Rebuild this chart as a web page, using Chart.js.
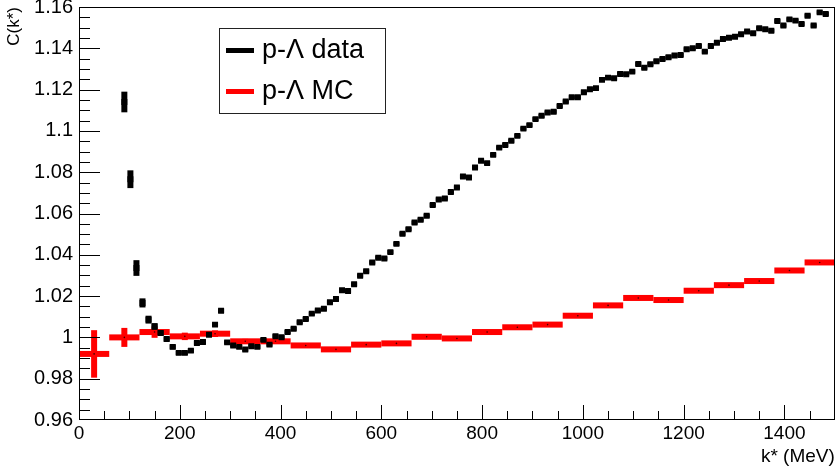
<!DOCTYPE html>
<html>
<head>
<meta charset="utf-8">
<script src="https://cdn.jsdelivr.net/npm/chart.js@4/dist/chart.umd.min.js"></script>
<style>
html,body{margin:0;padding:0;background:#ffffff;}
#wrap{width:839px;height:472px;position:relative;overflow:hidden;}
canvas{display:block;}
</style>
</head>
<body>
<div id="wrap"><canvas id="c" width="839" height="472"></canvas></div>
<script>
// ---- data: p-Lambda correlation (data) ----
const dataX = [90,102,114,126,138,150,162,174,186,198,210,222,234,246,258,270,282,294,306,318,330,342,354,366,378,390,402,414,426,438,450,462,474,486,498,510,522,534,546,558,570,582,594,606,618,630,642,654,666,678,690,702,714,726,738,750,762,774,786,798,810,822,834,846,858,870,882,894,906,918,930,942,954,966,978,990,1002,1014,1026,1038,1050,1062,1074,1086,1098,1110,1122,1134,1146,1158,1170,1182,1194,1206,1218,1230,1242,1254,1266,1278,1290,1302,1314,1326,1338,1350,1362,1374,1386,1398,1410,1422,1434,1446,1458,1470,1482];
const dataY = [1.1140,1.0766,1.0336,1.0167,1.0086,1.0053,1.0021,0.9992,0.9954,0.9925,0.9925,0.9936,0.9973,0.9978,1.0013,1.0062,1.0129,0.9976,0.9961,0.9954,0.9941,0.9957,0.9954,0.9988,0.9965,1.0006,1.0001,1.0026,1.0042,1.0073,1.0089,1.0115,1.0130,1.0139,1.0170,1.0186,1.0228,1.0225,1.0257,1.0299,1.0320,1.0363,1.0386,1.0382,1.0413,1.0453,1.0502,1.0524,1.0556,1.0570,1.0589,1.0641,1.0668,1.0673,1.0704,1.0726,1.0779,1.0774,1.0823,1.0855,1.0844,1.0884,1.0919,1.0932,1.0952,1.0976,1.1011,1.1028,1.1057,1.1073,1.1089,1.1093,1.1121,1.1142,1.1163,1.1163,1.1187,1.1202,1.1207,1.1247,1.1258,1.1255,1.1276,1.1274,1.1287,1.1324,1.1306,1.1323,1.1337,1.1348,1.1357,1.1365,1.1368,1.1395,1.1400,1.1411,1.1384,1.1411,1.1427,1.1445,1.1451,1.1456,1.1468,1.1481,1.1473,1.1497,1.1492,1.1485,1.1532,1.1510,1.1540,1.1534,1.1518,1.1558,1.1510,1.1574,1.1566];
const dataErr = [0.0050,0.0043,0.0038,0.0022,0.0019,0.0016,0.0014,0.0012,0.0012,0.0011,0.0011,0.0011,0.0011,0.0011,0.0011,0.0011,0.0011,0.0010,0.0010,0.0010,0.0010,0.0010,0.0010,0.0010,0.0010,0.0010,0.0010,0.0010,0.0010,0.0010,0.0010,0.0010,0.0010,0.0010,0.0010,0.0010,0.0010,0.0010,0.0010,0.0010,0.0010,0.0010,0.0010,0.0010,0.0010,0.0010,0.0010,0.0010,0.0010,0.0010,0.0010,0.0010,0.0010,0.0010,0.0010,0.0010,0.0010,0.0010,0.0010,0.0010,0.0010,0.0010,0.0010,0.0010,0.0010,0.0010,0.0010,0.0010,0.0010,0.0010,0.0010,0.0010,0.0010,0.0010,0.0010,0.0010,0.0010,0.0010,0.0010,0.0010,0.0010,0.0010,0.0010,0.0010,0.0010,0.0010,0.0010,0.0010,0.0010,0.0010,0.0010,0.0010,0.0010,0.0010,0.0010,0.0010,0.0010,0.0010,0.0010,0.0010,0.0010,0.0010,0.0010,0.0010,0.0010,0.0010,0.0010,0.0010,0.0010,0.0010,0.0010,0.0010,0.0010,0.0010,0.0010,0.0010,0.0010];

// ---- MC: p-Lambda (60 MeV bins) ----
const mcX = [30,90,150,210,270,330,390,450,510,570,630,690,750,810,870,930,990,1050,1110,1170,1230,1290,1350,1410,1470];
const mcY = [0.9920,1.0000,1.0026,1.0005,1.0018,0.9981,0.9981,0.9961,0.9942,0.9965,0.9971,1.0003,0.9995,1.0026,1.0049,1.0062,1.0105,1.0155,1.0191,1.0181,1.0226,1.0253,1.0273,1.0324,1.0363];
const mcErr = [0.0115,0.0046,0.0028,0.0018,0.0016,0.0012,0.0011,0.0011,0.0011,0.0011,0.0011,0.0011,0.0011,0.0011,0.0011,0.0011,0.0011,0.0011,0.0011,0.0011,0.0011,0.0011,0.0011,0.0011,0.0011];
const mcBinWidth = 60;

// ---- axes ----
const xTickValues = [0,200,400,600,800,1000,1200,1400];
const xTickLabels = ['0','200','400','600','800','1000','1200','1400'];
const xMinorStep = 50;
const yTickValues = [0.96,0.98,1.00,1.02,1.04,1.06,1.08,1.10,1.12,1.14,1.16];
const yTickLabels = ['0.96','0.98','1','1.02','1.04','1.06','1.08','1.1','1.12','1.14','1.16'];
const yMinorStep = 0.005;
const seriesNames = ['p-\u039B data','p-\u039B MC'];
const xTitle = 'k* (MeV)';
const yTitle = 'C(k*)';

const FONT = '"Liberation Sans", Arial, Helvetica, sans-serif';

const rootPlugin = {
  id: 'rootStyle',
  beforeDatasetsDraw(chart) {
    const ctx = chart.ctx, xs = chart.scales.x, ys = chart.scales.y, a = chart.chartArea;
    ctx.save();
    ctx.beginPath(); ctx.rect(a.left, a.top, a.right - a.left, a.bottom - a.top); ctx.clip();
    // MC bins
    const mc = chart.getDatasetMeta(1);
    ctx.fillStyle = chart.data.datasets[1].borderColor;
    mc.data.forEach((el, i) => {
      const x0 = xs.getPixelForValue(mcX[i] - mcBinWidth / 2);
      const x1 = xs.getPixelForValue(mcX[i] + mcBinWidth / 2);
      ctx.fillRect(x0, el.y - 3, x1 - x0, 6);
      const y0 = ys.getPixelForValue(mcY[i] + mcErr[i]);
      const y1 = ys.getPixelForValue(mcY[i] - mcErr[i]);
      ctx.fillRect(el.x - 3, y0, 6, y1 - y0);
    });
    // data error bars
    const dm = chart.getDatasetMeta(0);
    ctx.fillStyle = chart.data.datasets[0].borderColor;
    dm.data.forEach((el, i) => {
      const y0 = ys.getPixelForValue(dataY[i] + dataErr[i]);
      const y1 = ys.getPixelForValue(dataY[i] - dataErr[i]);
      ctx.fillRect(el.x - 3, y0, 6, y1 - y0);
    });
    ctx.restore();
  },
  afterDraw(chart) {
    const ctx = chart.ctx, xs = chart.scales.x, ys = chart.scales.y, a = chart.chartArea;
    const L = Math.round(a.left), R = Math.round(a.right), T = Math.round(a.top), B = Math.round(a.bottom);
    ctx.save();
    ctx.strokeStyle = '#000000';
    ctx.lineWidth = 1;
    // frame
    ctx.strokeRect(L + 0.5, T + 0.5, R - L - 1, B - T - 1);
    // y ticks
    ctx.beginPath();
    for (let v = ys.min; v <= ys.max + 1e-9; v += yMinorStep) {
      let yp = Math.round(ys.getPixelForValue(v)) + 0.5;
      yp = Math.min(Math.max(yp, T + 0.5), B - 0.5);
      const isMajor = yTickValues.some(t => Math.abs(t - v) < 1e-6);
      ctx.moveTo(L, yp); ctx.lineTo(L + (isMajor ? 21 : 11), yp);
    }
    ctx.stroke();
    // x ticks
    ctx.beginPath();
    for (let v = xs.min; v < xs.max - 1e-6; v += xMinorStep) {
      const xp = Math.round(xs.getPixelForValue(v)) + 0.5;
      const isMajor = xTickValues.indexOf(v) >= 0;
      ctx.moveTo(xp, B - 1); ctx.lineTo(xp, B - 1 - (isMajor ? 14 : 8));
    }
    ctx.stroke();

    // legend
    const lx = 219, ly = 28, lw = 166, lh = 85;
    ctx.fillStyle = '#ffffff';
    ctx.fillRect(lx, ly, lw, lh);
    ctx.strokeStyle = '#222222';
    ctx.strokeRect(lx + 0.5, ly + 0.5, lw, lh);
    const rows = [50.5, 91.5];
    chart.data.datasets.forEach((ds, i) => {
      ctx.fillStyle = ds.borderColor;
      ctx.fillRect(226, rows[i] - 2.5, 28, 5);
      ctx.fillStyle = '#000000';
      ctx.font = '27px ' + FONT;
      ctx.textBaseline = 'middle';
      ctx.textAlign = 'left';
      ctx.fillText(ds.label, 262, rows[i]);
    });
    ctx.restore();
  }
};

new Chart(document.getElementById('c'), {
  type: 'scatter',
  data: {
    datasets: [
      {
        label: seriesNames[0],
        data: dataX.map((x, i) => ({x: x, y: dataY[i]})),
        pointStyle: 'rect',
        pointRadius: 4.2,
        pointBorderWidth: 0,
        backgroundColor: '#000000',
        borderColor: '#000000',
        showLine: false
      },
      {
        label: seriesNames[1],
        data: mcX.map((x, i) => ({x: x, y: mcY[i]})),
        pointStyle: 'circle',
        pointRadius: 0.8,
        pointBorderWidth: 0,
        backgroundColor: '#3a0000',
        borderColor: '#ff0000',
        showLine: false
      }
    ]
  },
  options: {
    responsive: false,
    animation: false,
    events: [],
    layout: {padding: {top: 7, right: 4, left: 0, bottom: 0}},
    plugins: {legend: {display: false}, tooltip: {enabled: false}},
    scales: {
      x: {
        type: 'linear', min: 0, max: 1500,
        grid: {display: false, drawTicks: false},
        border: {display: false},
        afterBuildTicks: s => { s.ticks = xTickValues.map(v => ({value: v})); },
        afterFit: s => { s.height = 52; s.paddingLeft = 0; s.paddingRight = 0; },
        ticks: {
          autoSkip: false, maxRotation: 0, padding: 2, color: '#000000',
          font: {family: FONT, size: 19},
          callback: (v, i) => xTickLabels[i]
        },
        title: {display: true, text: xTitle, align: 'end', color: '#000000',
          font: {family: FONT, size: 19}, padding: {top: 0, bottom: 4}}
      },
      y: {
        type: 'linear', min: 0.96, max: 1.16,
        grid: {display: false, drawTicks: false},
        border: {display: false},
        afterBuildTicks: s => { s.ticks = yTickValues.map(v => ({value: v})); },
        afterFit: s => { s.width = 79; s.paddingTop = 0; s.paddingBottom = 0; },
        ticks: {
          autoSkip: false, padding: 6, color: '#000000',
          font: {family: FONT, size: 20},
          callback: (v, i) => yTickLabels[i]
        },
        title: {display: true, text: yTitle, align: 'end', color: '#000000',
          font: {family: FONT, size: 17}, padding: {top: 4, bottom: 0}}
      }
    }
  },
  plugins: [rootPlugin]
});
</script>
</body>
</html>
